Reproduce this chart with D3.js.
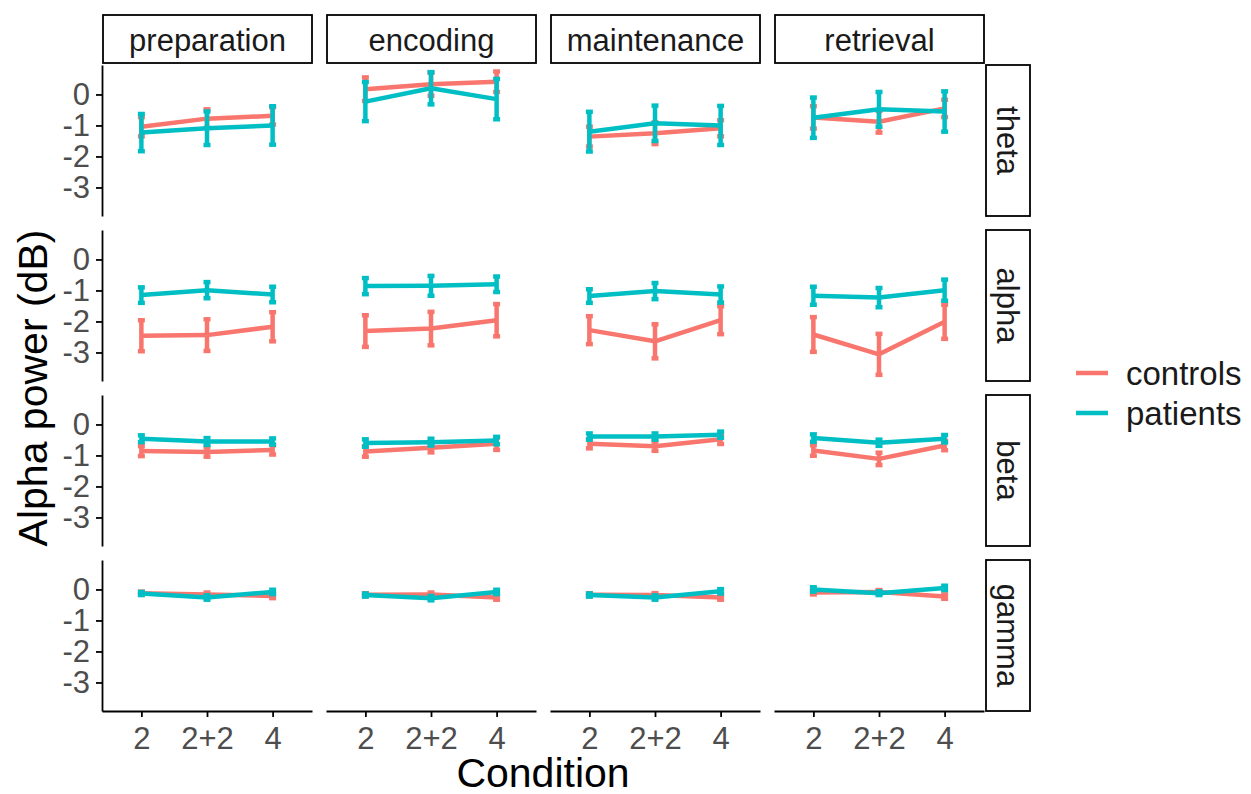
<!DOCTYPE html>
<html>
<head>
<meta charset="utf-8">
<script src="https://cdn.jsdelivr.net/npm/d3@7"></script>
<style>
  body { margin: 0; background: #fff; }
  text { font-family: "Liberation Sans", Arial, sans-serif; }
</style>
</head>
<body>
<div id="chart"></div>
<script>
const phases = ["preparation", "encoding", "maintenance", "retrieval"];
const bands = ["theta", "alpha", "beta", "gamma"];
const conditions = ["2", "2+2", "4"];
const groups = ["controls", "patients"];
const yTicks = [0, -1, -2, -3];

// one row per phase, values for condition 2, 2+2, 4
const thetaControls = [[-1.04, -0.78, -0.69], [0.17, 0.33, 0.41], [-1.36, -1.25, -1.09], [-0.74, -0.88, -0.45]];
const thetaControlsSE = [[0.31, 0.3, 0.28], [0.38, 0.37, 0.33], [0.32, 0.35, 0.26], [0.36, 0.35, 0.28]];
const thetaPatients = [[-1.23, -1.09, -1.0], [-0.23, 0.2, -0.15], [-1.2, -0.93, -1.0], [-0.75, -0.48, -0.55]];
const thetaPatientsSE = [[0.6, 0.54, 0.62], [0.63, 0.52, 0.65], [0.64, 0.57, 0.63], [0.65, 0.56, 0.65]];

const alphaControls = [[-2.46, -2.44, -2.17], [-2.31, -2.23, -1.96], [-2.28, -2.64, -1.96], [-2.42, -3.06, -2.01]];
const alphaControlsSE = [[0.5, 0.51, 0.47], [0.51, 0.54, 0.52], [0.45, 0.55, 0.45], [0.56, 0.66, 0.55]];
const alphaPatients = [[-1.15, -0.99, -1.13], [-0.86, -0.85, -0.8], [-1.18, -1.02, -1.13], [-1.17, -1.23, -0.99]];
const alphaPatientsSE = [[0.25, 0.26, 0.25], [0.26, 0.32, 0.25], [0.22, 0.26, 0.26], [0.29, 0.31, 0.34]];

const betaControls = [[-0.86, -0.89, -0.82], [-0.87, -0.75, -0.62], [-0.62, -0.7, -0.48], [-0.84, -1.11, -0.68]];
const betaControlsSE = [[0.16, 0.15, 0.15], [0.17, 0.15, 0.2], [0.15, 0.15, 0.15], [0.17, 0.2, 0.15]];
const betaPatients = [[-0.46, -0.55, -0.55], [-0.6, -0.57, -0.52], [-0.39, -0.39, -0.33], [-0.44, -0.59, -0.46]];
const betaPatientsSE = [[0.11, 0.11, 0.1], [0.12, 0.11, 0.12], [0.1, 0.1, 0.1], [0.12, 0.1, 0.12]];

const gammaControls = [[-0.12, -0.16, -0.21], [-0.17, -0.16, -0.26], [-0.17, -0.18, -0.26], [-0.1, -0.08, -0.23]];
const gammaControlsSE = [[0.05, 0.06, 0.07], [0.05, 0.06, 0.07], [0.05, 0.06, 0.07], [0.06, 0.06, 0.07]];
const gammaPatients = [[-0.13, -0.26, -0.08], [-0.18, -0.28, -0.08], [-0.18, -0.26, -0.06], [0.0, -0.12, 0.05]];
const gammaPatientsSE = [[0.05, 0.07, 0.07], [0.05, 0.07, 0.07], [0.05, 0.07, 0.07], [0.07, 0.06, 0.07]];

const means = {
  theta: { controls: thetaControls, patients: thetaPatients },
  alpha: { controls: alphaControls, patients: alphaPatients },
  beta: { controls: betaControls, patients: betaPatients },
  gamma: { controls: gammaControls, patients: gammaPatients }
};
const errors = {
  theta: { controls: thetaControlsSE, patients: thetaPatientsSE },
  alpha: { controls: alphaControlsSE, patients: alphaPatientsSE },
  beta: { controls: betaControlsSE, patients: betaPatientsSE },
  gamma: { controls: gammaControlsSE, patients: gammaPatientsSE }
};

const W = 1251, H = 794;
const panelLeft = 102, panelTop = 65;
const panelW = 210, panelH = 151, stepX = 224, stepY = 165;

const svg = d3.select("#chart").append("svg")
  .attr("width", W).attr("height", H);

const x = d3.scalePoint().domain(conditions).range([0, panelW]).padding(0.6);
const y = d3.scaleLinear().domain([-3.92, 0.95]).range([panelH, 0]);
const color = d3.scaleOrdinal().domain(groups).range(["#F8766D", "#00BFC4"]);

// column strips on top
phases.forEach((p, c) => {
  const g = svg.append("g").attr("transform", `translate(${panelLeft + c * stepX},15)`);
  g.append("rect").attr("x", 1).attr("y", 0).attr("width", panelW - 1).attr("height", 48)
    .attr("fill", "#fff").attr("stroke", "#000").attr("stroke-width", 1.8);
  g.append("text").attr("x", panelW / 2 + 0.5).attr("y", 35.5)
    .attr("text-anchor", "middle").style("font-size", "31px").attr("fill", "#1a1a1a")
    .text(p);
});

// row strips on right
bands.forEach((b, r) => {
  const g = svg.append("g").attr("transform", `translate(${panelLeft + 3 * stepX + panelW + 2},${panelTop + r * stepY})`);
  g.append("rect").attr("x", 0).attr("y", 0).attr("width", 44).attr("height", panelH)
    .attr("fill", "#fff").attr("stroke", "#000").attr("stroke-width", 1.8);
  g.append("text").attr("transform", `translate(11,${panelH / 2}) rotate(90)`)
    .attr("text-anchor", "middle").style("font-size", "31px").attr("fill", "#1a1a1a")
    .text(b);
});

bands.forEach((b, r) => {
  phases.forEach((p, c) => {
    const g = svg.append("g")
      .attr("transform", `translate(${panelLeft + c * stepX},${panelTop + r * stepY})`);

    if (c === 0) {
      const ax = g.append("g").call(d3.axisLeft(y).tickValues(yTicks).tickFormat(d => String(d))
        .tickSize(6).tickSizeOuter(0).tickPadding(6));
      ax.select(".domain").attr("stroke-width", 1.8);
      ax.selectAll(".tick line").attr("stroke-width", 1.8);
      ax.selectAll("text").style("font-size", "31px").attr("fill", "#4D4D4D")
        .attr("font-family", null);
    }
    if (r === bands.length - 1) {
      const ax = g.append("g").attr("transform", `translate(0,${panelH})`)
        .call(d3.axisBottom(x).tickSize(6).tickSizeOuter(0).tickPadding(10));
      ax.select(".domain").attr("stroke-width", 1.8);
      ax.selectAll(".tick line").attr("stroke-width", 1.8);
      ax.selectAll("text").style("font-size", "31px").attr("fill", "#4D4D4D")
        .attr("font-family", null);
    }

    groups.forEach(grp => {
      const m = means[b][grp][c];
      const e = errors[b][grp][c];
      const pts = conditions.map((k, i) => ({ k, v: m[i], se: e[i] }));

      g.append("path").datum(pts)
        .attr("fill", "none").attr("stroke", color(grp)).attr("stroke-width", 4.5)
        .attr("stroke-linejoin", "round")
        .attr("d", d3.line().x(d => x(d.k)).y(d => y(d.v)));

      const eb = g.append("g").attr("stroke", color(grp)).attr("stroke-width", 4.5);
      eb.selectAll("line.v").data(pts).join("line").attr("class", "v")
        .attr("x1", d => x(d.k)).attr("x2", d => x(d.k))
        .attr("y1", d => y(d.v + d.se)).attr("y2", d => y(d.v - d.se));
      eb.selectAll("line.t").data(pts).join("line").attr("class", "t")
        .attr("x1", d => x(d.k) - 3.5).attr("x2", d => x(d.k) + 3.5)
        .attr("y1", d => y(d.v + d.se)).attr("y2", d => y(d.v + d.se));
      eb.selectAll("line.b").data(pts).join("line").attr("class", "b")
        .attr("x1", d => x(d.k) - 3.5).attr("x2", d => x(d.k) + 3.5)
        .attr("y1", d => y(d.v - d.se)).attr("y2", d => y(d.v - d.se));
    });
  });
});

// axis titles
svg.append("text").attr("x", panelLeft + (3 * stepX + panelW) / 2).attr("y", 787)
  .attr("text-anchor", "middle").style("font-size", "41px").text("Condition");
svg.append("text").attr("transform", `translate(47,${panelTop + (3 * stepY + panelH) / 2}) rotate(-90)`)
  .attr("text-anchor", "middle").style("font-size", "41px").text("Alpha power (dB)");

// legend
const leg = svg.append("g").attr("transform", "translate(1076,373)");
groups.forEach((grp, i) => {
  leg.append("line").attr("x1", 0).attr("x2", 32).attr("y1", i * 40).attr("y2", i * 40)
    .attr("stroke", color(grp)).attr("stroke-width", 4.5);
  leg.append("text").attr("x", 50).attr("y", i * 40 + 12)
    .style("font-size", "33px").attr("fill", "#1a1a1a").text(grp);
});
</script>
</body>
</html>
